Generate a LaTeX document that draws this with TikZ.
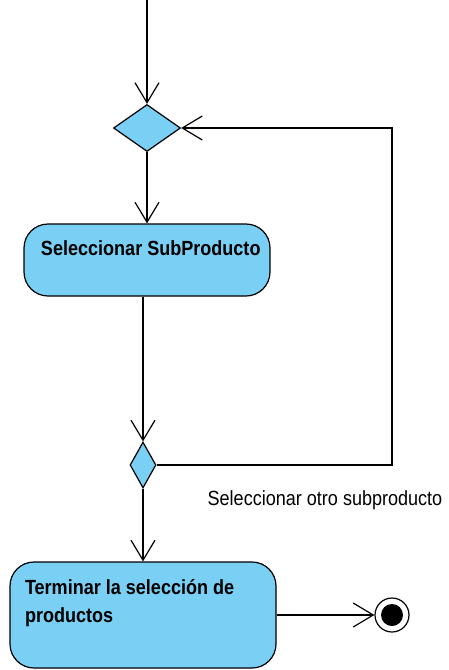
\documentclass[tikz,border=0pt]{standalone}
\usepackage{fontspec}
\setmainfont[FakeStretch=0.88]{Liberation Sans}
\usetikzlibrary{arrows.meta,shapes.geometric}
\definecolor{actblue}{RGB}{122,207,245}

\begin{document}
\begin{tikzpicture}[->,>={Straight Barb[length=20pt,width=24pt]},line width=1.2pt,
    node distance=132pt,
    decision node/.style={diamond,draw,fill=actblue,inner sep=0pt},
    action node/.style={draw,fill=actblue,rounded corners=24pt,inner sep=0pt},
    action text/.style={font=\fontsize{20.5}{28}\selectfont\bfseries,align=left,inner sep=0pt,anchor=north west},
    final node/.style={circle,draw,fill=white,inner sep=0pt,minimum size=34pt}]
  \useasboundingbox (0,0) rectangle (449pt,-670pt);
  \coordinate (0) at (147pt,0pt);
  \node[decision node,minimum width=67pt,minimum height=47pt] (1) at (147pt,-128pt) {};
  \node[action node,minimum width=246pt,minimum height=72pt] (2) [below of=1] {};
  \node[action text] (2t) at ([xshift=17pt,yshift=-17pt]2.north west) {Seleccionar SubProducto};
  \node[decision node,minimum width=26pt,minimum height=46pt] (3) at (143pt,-465pt) {};
  \node[action node,minimum width=266pt,minimum height=106pt] (4) [below of=3,node distance=150pt] {};
  \node[action text] (4t) at ([xshift=15pt,yshift=-17pt]4.north west) {Terminar la selección de\\productos};
  \node[final node] (5) [right of=4,node distance=249pt] {};
  \node[circle,fill=black,inner sep=0pt,minimum size=22pt] (6) at (5) {};
  \node[font=\fontsize{20.5}{24}\selectfont] (7) at (325pt,-500pt) {Seleccionar otro subproducto};

  \path
    (0) edge (1)
    (1) edge (2)
    (3) edge (4)
    (4) edge (5);
  \draw (3.north |- 2.south) -- (3);
  \draw (3.east) -- (3.east -| 5) |- (1.east);
\end{tikzpicture}
\end{document}
